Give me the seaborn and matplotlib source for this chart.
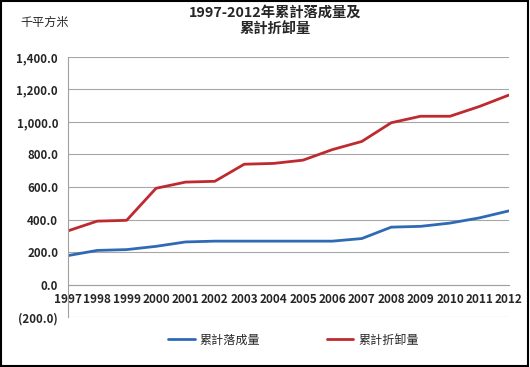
import numpy as np
import pandas as pd
import matplotlib.pyplot as plt
import matplotlib.ticker as mticker
import matplotlib.lines as mlines
from matplotlib.patches import Rectangle
import seaborn as sns

# Data
years = list(range(1997, 2013))
completed = [178, 210, 215, 235, 262, 267, 267, 267, 267, 267, 283, 353, 358, 378, 410, 453]
demolished = [330, 390, 395, 592, 630, 635, 740, 745, 765, 830, 880, 995, 1035, 1035, 1095, 1165]
series_names = ["累計落成量", "累計折卸量"]
colors = ["#2F6BB5", "#BE2A2E"]

sns.set_style("white")
plt.rcParams["font.family"] = ["Noto Sans CJK TC", "DejaVu Sans"]

df = pd.DataFrame({
    "YEAR": years * 2,
    "VALUE": completed + demolished,
    "SERIES": [series_names[0]] * len(years) + [series_names[1]] * len(years),
})

fig = plt.figure(figsize=(5.3, 3.67), dpi=100)
ax = fig.add_axes([0.128, 0.136, 0.832, 0.709])

sns.lineplot(data=df, x="YEAR", y="VALUE", hue="SERIES", palette=colors,
             linewidth=2, legend=False, ax=ax)

ax.set_xlim(1997, 2012)
ax.set_ylim(-200, 1400)
ax.set_yticks(np.arange(-200, 1401, 200))
ax.set_xticks(years)
ax.yaxis.set_major_formatter(mticker.FuncFormatter(
    lambda v, p: f"({abs(v):,.1f})" if v < 0 else f"{v:,.1f}"))
ax.grid(axis="y", color="#a6a6a6", lw=0.8)
ax.set_axisbelow(True)

# Axis styling: x axis crosses at 0
for s in ["top", "right"]:
    ax.spines[s].set_visible(False)
ax.spines["bottom"].set_position(("data", 0))
ax.spines["bottom"].set_color("#a0a0a0")
ax.spines["left"].set_color("#a0a0a0")
ax.tick_params(axis="x", direction="in", length=3, color="#a0a0a0", pad=6, labelsize=8.5)
ax.tick_params(axis="y", direction="out", length=4, color="#a0a0a0", pad=3, labelsize=8.3)
for lbl in ax.get_xticklabels() + ax.get_yticklabels():
    lbl.set_fontweight("bold")
ax.set_xlabel("")
ax.set_ylabel("")

# Title and unit
fig.text(0.52, 0.985, "1997-2012年累計落成量及\n累計折卸量", ha="center", va="top",
         fontsize=10.3, fontweight="bold", linespacing=1.3)
fig.text(0.085, 0.94, "千平方米", ha="center", va="center", fontsize=8.7)

# Legend at bottom
handles = [mlines.Line2D([], [], color=c, lw=2, label=n) for c, n in zip(colors, series_names)]
fig.legend(handles=handles, loc="center", bbox_to_anchor=(0.554, 0.073), ncol=2,
           frameon=False, fontsize=8.7, columnspacing=5.5, handlelength=2.2, handletextpad=0.4)

# Outer border
fig.patches.append(Rectangle((0.002, 0.003), 0.995, 0.994, transform=fig.transFigure,
                             fill=False, edgecolor="black", lw=1.5))

fig.savefig("out.png", dpi=100)
